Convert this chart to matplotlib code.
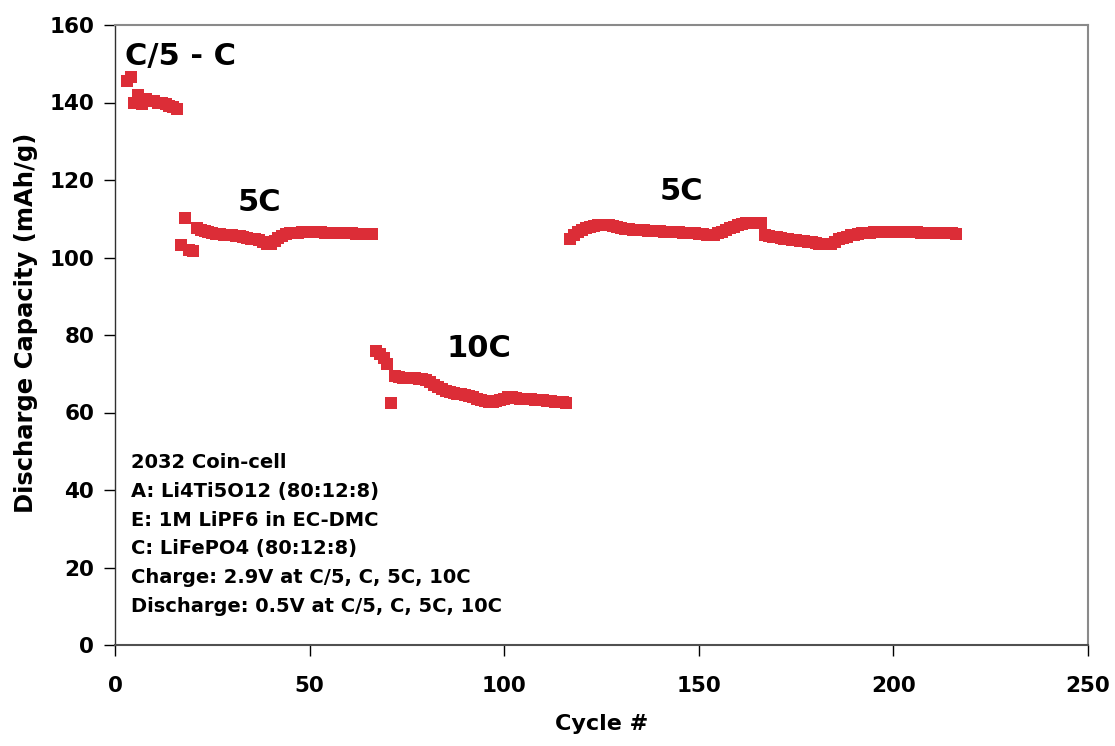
import matplotlib
matplotlib.use("Agg")
import matplotlib.pyplot as plt

# ---- data ----
cycles_c5 = [3, 4, 5, 6, 7, 8, 9, 10, 11, 12, 13, 14, 15, 16]
cap_c5 = [145.5, 146.5, 140.0, 142.0, 139.5, 140.8, 140.5, 140.3, 140.0, 139.8,
          139.5, 139.2, 138.8, 138.3]

cycles_5c_a = list(range(17, 67))
cap_5c_a = [103.3, 110.3, 102.0, 101.7, 107.6, 107.2, 106.8, 106.5, 106.3, 106.0,
            106.0, 105.9, 105.8, 105.7, 105.6, 105.5, 105.3, 105.1, 104.9, 104.7,
            104.4, 103.9, 103.4, 103.5, 104.2, 105.0, 105.6, 106.0, 106.2, 106.3,
            106.4, 106.5, 106.5, 106.6, 106.6, 106.5, 106.5, 106.4, 106.4, 106.3,
            106.3, 106.3, 106.2, 106.2, 106.2, 106.1, 106.1, 106.0, 106.0, 106.0]

cycles_10c = list(range(67, 117))
cap_10c = [76.0, 75.0, 74.0, 72.5, 62.5, 69.5, 69.2, 69.0, 68.9, 68.8,
           68.8, 68.7, 68.6, 68.3, 67.8, 67.2, 66.6, 66.0, 65.6, 65.3,
           65.1, 64.9, 64.7, 64.5, 64.3, 64.0, 63.6, 63.3, 63.0, 62.8,
           62.8, 62.9, 63.2, 63.6, 63.9, 64.0, 63.8, 63.6, 63.5, 63.4,
           63.4, 63.3, 63.2, 63.1, 63.0, 62.9, 62.8, 62.7, 62.6, 62.5]

cycles_5c_b = list(range(117, 217))
cap_5c_b = [104.7, 105.8, 106.6, 107.2, 107.6, 107.9, 108.1, 108.3, 108.4, 108.4,
            108.3, 108.1, 107.9, 107.6, 107.4, 107.3, 107.2, 107.1, 107.1, 107.0,
            106.9, 106.9, 106.8, 106.8, 106.7, 106.7, 106.6, 106.5, 106.5, 106.4,
            106.3, 106.3, 106.2, 106.1, 106.0, 105.9, 105.8, 105.9, 106.2, 106.7,
            107.2, 107.6, 108.0, 108.3, 108.6, 108.8, 108.9, 109.0, 109.0, 108.9,
            105.7, 105.5, 105.3, 105.2, 105.1, 104.9, 104.8, 104.6, 104.5, 104.3,
            104.2, 104.0, 103.9, 103.7, 103.6, 103.5, 103.4, 103.6, 104.1, 104.7,
            105.1, 105.4, 105.7, 105.9, 106.1, 106.2, 106.3, 106.4, 106.5, 106.5,
            106.6, 106.6, 106.6, 106.6, 106.6, 106.6, 106.5, 106.5, 106.5, 106.5,
            106.4, 106.4, 106.4, 106.3, 106.3, 106.3, 106.2, 106.2, 106.2, 106.1]

x_ticks = [0, 50, 100, 150, 200, 250]
y_ticks = [0, 20, 40, 60, 80, 100, 120, 140, 160]

rate_labels = ["C/5 - C", "5C", "10C", "5C"]
rate_label_pos = [(2.6, 149.6), (31.6, 112.0), (85.3, 74.3), (140.0, 114.8)]

info_lines = ["2032 Coin-cell",
              "A: Li4Ti5O12 (80:12:8)",
              "E: 1M LiPF6 in EC-DMC",
              "C: LiFePO4 (80:12:8)",
              "Charge: 2.9V at C/5, C, 5C, 10C",
              "Discharge: 0.5V at C/5, C, 5C, 10C"]

# ---- figure ----
plt.rcParams['font.family'] = ['DejaVu Sans']
fig = plt.figure(figsize=(11.15, 7.46), dpi=100)
ax = fig.add_axes([115 / 1115, 101 / 746, 973 / 1115, 620 / 746])

red = '#DC2D37'
cyc = cycles_c5 + cycles_5c_a + cycles_10c + cycles_5c_b
cap = cap_c5 + cap_5c_a + cap_10c + cap_5c_b
ax.plot(cyc, cap, linestyle='none', marker='s', markersize=8.3,
        color=red, markeredgewidth=0, clip_on=False)

ax.set_xlim(0, 250)
ax.set_ylim(0, 160)
ax.set_xticks(x_ticks)
ax.set_yticks(y_ticks)
ax.tick_params(axis='both', direction='out', length=8, width=1, colors='black',
               labelsize=15.5)
ax.tick_params(axis='x', pad=14)
ax.tick_params(axis='y', pad=7)
for lab in ax.get_xticklabels() + ax.get_yticklabels():
    lab.set_fontweight('bold')

for side in ['top', 'right']:
    ax.spines[side].set_color('#8a8a8a')
    ax.spines[side].set_linewidth(1.5)
ax.spines['bottom'].set_color('#505050')
ax.spines['bottom'].set_linewidth(1.5)
ax.spines['left'].set_color('#303030')
ax.spines['left'].set_linewidth(1.0)

ax.set_xlabel('Cycle #', fontsize=16, fontweight='bold')
ax.xaxis.set_label_coords(0.5, -0.112)
ax.set_ylabel('Discharge Capacity (mAh/g)', fontsize=17.5, fontweight='bold')
ax.yaxis.set_label_coords(-0.079, 0.52)

for txt, (x, y) in zip(rate_labels, rate_label_pos):
    ax.text(x, y, txt, fontsize=22, fontweight='bold', ha='left',
            va='baseline', color='black')

# info block: first baseline at y=45.6 (data units), line step 7.4 units
for i, line in enumerate(info_lines):
    ax.text(4.1, 45.6 - 7.4 * i, line, fontsize=14, fontweight='bold',
            ha='left', va='baseline', color='black')

fig.savefig('out.png', dpi=100)
